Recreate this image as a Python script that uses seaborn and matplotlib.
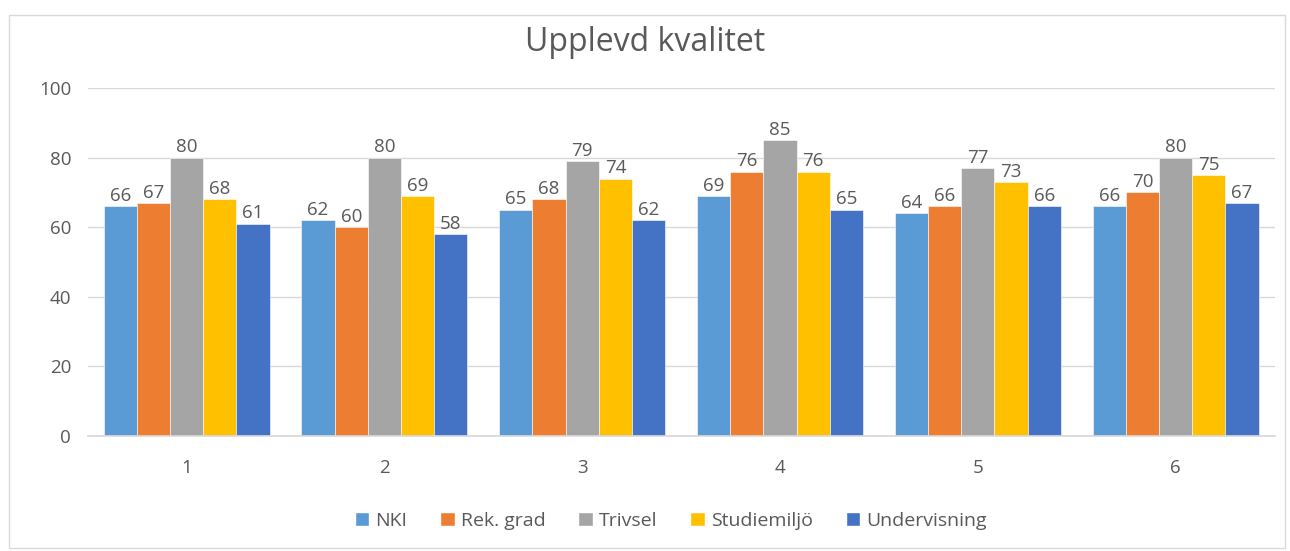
import matplotlib
matplotlib.use('Agg')
import matplotlib.pyplot as plt
import pandas as pd
import seaborn as sns
from matplotlib.patches import Rectangle

groups = ["1", "2", "3", "4", "5", "6"]
series = ["NKI", "Rek. grad", "Trivsel", "Studiemiljö", "Undervisning"]
nki = [66, 62, 65, 69, 64, 66]
rek_grad = [67, 60, 68, 76, 66, 70]
trivsel = [80, 80, 79, 85, 77, 80]
studiemiljo = [68, 69, 74, 76, 73, 75]
undervisning = [61, 58, 62, 65, 66, 67]
colors = ["#5B9BD5", "#ED7D31", "#A5A5A5", "#FFC000", "#4472C4"]

rows = []
for name, vals in zip(series, [nki, rek_grad, trivsel, studiemiljo, undervisning]):
    for g, v in zip(groups, vals):
        rows.append({"Grupp": g, "Serie": name, "Värde": v})
df = pd.DataFrame(rows)

sns.set_theme(style="white")
plt.rcParams['font.family'] = ['Open Sans', 'DejaVu Sans']
txt = "#595959"

fig = plt.figure(figsize=(12.9, 5.51), dpi=100)
ax = fig.add_axes([0.068, 0.209, 0.92, 0.631])

sns.barplot(data=df, x="Grupp", y="Värde", hue="Serie", palette=colors, saturation=1,
            width=0.84, gap=0, ax=ax, legend=False, edgecolor="white", linewidth=0.4)

for cont in ax.containers:
    ax.bar_label(cont, fmt="%d", padding=1, fontsize=13.5, color=txt)

ax.set_ylim(0, 100)
ax.set_yticks(range(0, 101, 20))
ax.yaxis.grid(True, color="#D9D9D9", linewidth=1)
ax.set_axisbelow(True)
ax.set_xlabel("")
ax.set_ylabel("")
for s in ["top", "right", "left"]:
    ax.spines[s].set_visible(False)
ax.spines["bottom"].set_color("#D9D9D9")
ax.tick_params(axis="both", length=0, labelsize=13.5, colors=txt)
ax.tick_params(axis="x", pad=17)
ax.tick_params(axis="y", pad=12)

fig.text(0.5, 0.922, "Upplevd kvalitet", ha="center", va="center", fontsize=23, color=txt)

handles = [Rectangle((0, 0), 1, 1, facecolor=c) for c in colors]
fig.legend(handles, series, loc="center", bbox_to_anchor=(0.52, 0.055), ncol=5,
           frameon=False, fontsize=14, labelcolor=txt, handlelength=0.75,
           handleheight=0.75, handletextpad=0.3, columnspacing=1.7)

fig.patches.append(Rectangle((0.007, 0.006), 0.989, 0.966, transform=fig.transFigure,
                             fill=False, edgecolor="#D9D9D9", linewidth=1))

fig.savefig("out.png", dpi=100)
